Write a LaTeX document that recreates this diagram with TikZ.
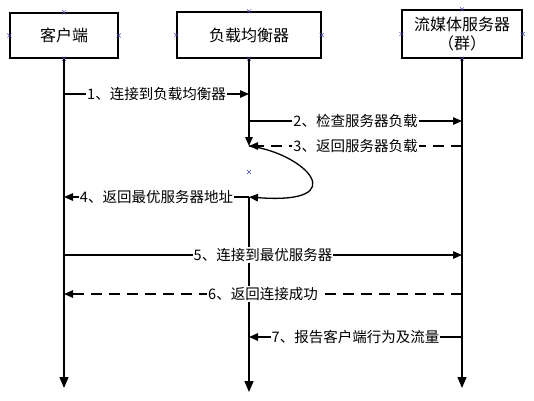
\documentclass[tikz,border=0pt]{standalone}
\usepackage{fontspec}
\setmainfont{Noto Sans CJK SC}
\usepackage{tikz}
\usetikzlibrary{shapes.misc}
\usetikzlibrary {arrows.meta}

\begin{document}
\begin{tikzpicture}[
x=1pt, y=-1pt,
line width=1.3pt,
actor/.style={
    draw,
    inner sep=0pt,
    align=center,
    font=\fontsize{16}{19}\selectfont
},
msg/.style={-{Triangle[length=9pt,width=7.5pt]}},
reply/.style={msg, dash pattern=on 11pt off 7pt},
life/.style={-{Triangle[length=11pt,width=9pt]}},
lbl/.style={fill=white, inner sep=1pt, font=\fontsize{14.5}{17}\selectfont},
cpmark/.style={cross out, draw=blue!45!gray, line width=0.5pt, minimum size=3.5pt, inner sep=0pt}
]
\useasboundingbox (0,0) rectangle (534,400);

\node[actor, minimum width=108pt, minimum height=45pt] (client) at (64,35.5) {客户端};
\node[actor, minimum width=144pt, minimum height=46pt] (lb) at (249,35) {负载均衡器};
\node[actor, minimum width=120pt, minimum height=48pt] (srv) at (462,34) {流媒体服务器\\（群）};

\foreach \n in {client,lb,srv}
    \foreach \a in {north,west,east,south}
        \node[cpmark] (\n-\a) at (\n.\a) {};
\node[cpmark] (lb-mid) at (249,172) {};

% points on the lifelines
\foreach \n in {client,lb,srv} {
    \foreach \i/\y in {1/94,2/121,3/146,4/197,5/255,6/294,7/337}
        \coordinate (\n\i) at (\n |- 0,\y);
}
\coordinate (client-end) at (client |- 0,388);
\coordinate (lb-end) at (lb |- 0,392);
\coordinate (srv-end) at (srv |- 0,388);

% lifelines
\draw[life] (client) -- (client-end);
\draw[msg] (lb) -- (lb3);
\draw[life] (lb4) -- (lb-end);
\draw[life] (srv) -- (srv-end);

% messages
\draw[msg] (client1) -- node[lbl] {1、连接到负载均衡器} (lb1);
\draw[msg] (lb2) -- node[lbl] {2、检查服务器负载} (srv2);
\draw[reply] (srv3) -- node[lbl] {3、返回服务器负载} (lb3);
\draw[msg] (lb3) .. controls (305,153) and (355,205) .. (lb4);
\draw[msg] (lb4) -- node[lbl] {4、返回最优服务器地址} (client4);
\draw[msg] (client5) -- node[lbl] {5、连接到最优服务器} (srv5);
\draw[reply] (srv6) -- node[lbl] {6、返回连接成功} (client6);
\draw[msg] (srv7) -- node[lbl] {7、报告客户端行为及流量} (lb7);
\end{tikzpicture}
\end{document}
